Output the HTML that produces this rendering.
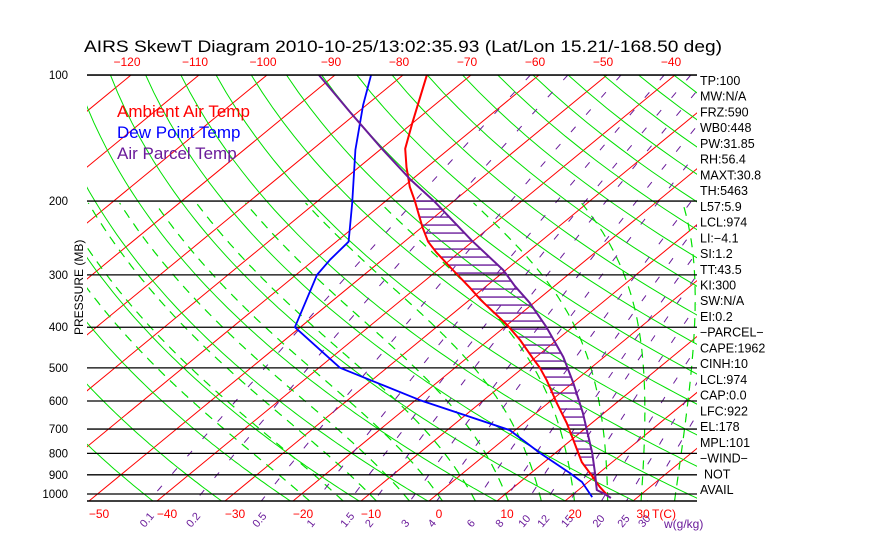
<!DOCTYPE html>
<html><head><meta charset="utf-8">
<style>
html,body{margin:0;padding:0;background:#fff;}
svg{display:block;font-family:"Liberation Sans",sans-serif;}
</style></head>
<body>
<svg id="chart" width="870" height="560" viewBox="0 0 870 560" xmlns="http://www.w3.org/2000/svg">
<defs><clipPath id="box"><rect x="87" y="75" width="610" height="426"/></clipPath></defs>
<rect width="870" height="560" fill="#fff"/>
<text x="84" y="52" font-size="17" textLength="638" lengthAdjust="spacingAndGlyphs">AIRS SkewT Diagram 2010-10-25/13:02:35.93 (Lat/Lon 15.21/-168.50 deg)</text>
<g id="bg" clip-path="url(#box)"></g>
<g id="data" clip-path="url(#box)"></g>
<g id="axes"></g>
<g font-size="17">
<text x="117" y="117" fill="#ff0000">Ambient Air Temp</text>
<text x="117" y="138" fill="#0000ff">Dew Point Temp</text>
<text x="117" y="159" fill="#6a1b9a">Air Parcel Temp</text>
</g>
<text transform="translate(83,335) rotate(-90)" font-size="12">PRESSURE (MB)</text>
<g id="info" font-size="12.5"></g>
</svg>
<script>
// ---- data (pressure in mb, temperature in °C) ----
const tempP = [100,130,150,166,185,200,231,250,265,292,322,344,395,429,474,500,535,607,677,743,839,911,962,1005];
const tempT = [-76.5,-70.1,-66.5,-63.0,-59.0,-55.7,-49.9,-46.5,-43.4,-37.8,-32.1,-28.4,-20.0,-15.4,-10.3,-7.5,-4.3,1.3,6.3,10.3,15.5,19.8,22.6,25.1];
const dewP = [100,118,151,202,250,276,300,400,500,597,704,798,891,936,1017];
const dewT = [-84.7,-80.5,-73.6,-64.6,-58.2,-57.7,-56.9,-50.8,-36.9,-19.4,-0.8,7.7,15.7,19.1,23.3];
const parcelP = [100,123,149,178,200,248,292,319,350,400,471,543,641,798,891,978,1000,1022];
const parcelT = [-92.4,-81.0,-70.3,-60.1,-52.9,-40.4,-30.4,-25.8,-20.6,-13.8,-6.0,0.1,6.9,15.4,19.4,22.7,24.6,26.2];
const pressureTicks = [100,200,300,400,500,600,700,800,900,1000];
const bottomTempTicks = [-50,-40,-30,-20,-10,0,10,20,30];
const topTempTicks = [-120,-110,-100,-90,-80,-70,-60,-50,-40];
const mixRatios = [0.1,0.2,0.5,1,1.5,2,3,4,6,8,10,12,15,20,25,30];
const infoLines = ["TP:100","MW:N/A","FRZ:590","WB0:448","PW:31.85","RH:56.4","MAXT:30.8","TH:5463","L57:5.9","LCL:974","LI:\u22124.1","SI:1.2","TT:43.5","KI:300","SW:N/A","EI:0.2","\u2212PARCEL\u2212","CAPE:1962","CINH:10","LCL:974","CAP:0.0","LFC:922","EL:178","MPL:101","\u2212WIND\u2212"," NOT","AVAIL"];

const NS="http://www.w3.org/2000/svg";
const PBOT=1039, PTOP=100;
function yP(p){return 494+182*Math.log(p/1000);}
function xT(T,y){return 429+6.8*T+1.216*(501-y);}
function mk(tag,parent,attrs){const e=document.createElementNS(NS,tag);for(const k in attrs)e.setAttribute(k,attrs[k]);parent.appendChild(e);return e;}
function pts(arr){return arr.map(a=>a[0].toFixed(1)+","+a[1].toFixed(1)).join(" ");}
function interp(ps,ts,p){
  for(let i=0;i<ps.length-1;i++){
    if(p>=ps[i]&&p<=ps[i+1]){const f=(Math.log(p)-Math.log(ps[i]))/(Math.log(ps[i+1])-Math.log(ps[i]));return ts[i]+f*(ts[i+1]-ts[i]);}
  }
  return null;
}
function es(Tc){return 6.112*Math.exp(17.67*Tc/(Tc+243.5));}
const bg=document.getElementById('bg'), dg=document.getElementById('data'), ax=document.getElementById('axes'), info=document.getElementById('info');

// isotherms
for(let T=-170;T<=50;T+=10){
  const l=mk('line',bg,{x1:xT(T,501),y1:501,x2:xT(T,75),y2:75,stroke:'#ff0000','stroke-width':1});
  
  
}
// dry adiabats
for(let th=200;th<=560;th+=10){
  const a=[];
  for(let p=PTOP;p<=PBOT+1;p+=10){const Tc=th*Math.pow(p/1000,0.286)-273.15;const y=yP(p);a.push([xT(Tc,y),y]);}
  const l=mk('polyline',bg,{points:pts(a),fill:'none',stroke:'#00e000','stroke-width':1});
  
  
}
// moist adiabats
for(let T0=-20;T0<=40;T0+=5){
  let T=T0+273.15,p=PBOT;const a=[];
  // start at 1000 reference, integrate down to PBOT first
  T=T0+273.15;p=1000;
  const step=-2;
  // go down to PBOT
  let Td=T,pd=p;
  while(pd<PBOT){const r=0.622*es(Td-273.15)/(pd-es(Td-273.15));const g=(287*Td+2.5e6*r)/(1005+2.5e6*2.5e6*r*0.622/(287*Td*Td));Td+=g*(2/pd);pd+=2;}
  T=Td;p=pd;
  while(p>200){const y=yP(p);a.push([xT(T-273.15,y),y]);const Tc=T-273.15;const r=0.622*es(Tc)/(p-es(Tc));const g=(287*T+2.5e6*r)/(1005+2.5e6*2.5e6*r*0.622/(287*T*T));T+=g*(step/p);p+=step;}
  const l=mk('polyline',bg,{points:pts(a),fill:'none',stroke:'#00e000','stroke-width':1.2,'stroke-dasharray':'9,7'});
  
  
}
// mixing ratio lines
mixRatios.forEach(w=>{
  const a=[];
  for(let p=PTOP;p<=PBOT+1;p+=10){const e=(w/1000)*p/(0.622+w/1000);const L=Math.log(e/6.112);const Tc=243.5*L/(17.67-L);const y=yP(p);a.push([xT(Tc,y),y]);}
  const l=mk('polyline',bg,{points:pts(a),fill:'none',stroke:'#6a1b9a','stroke-width':1,'stroke-dasharray':'7,16'});
  
  
  const p=PBOT;const e=(w/1000)*p/(0.622+w/1000);const L=Math.log(e/6.112);const Tc=243.5*L/(17.67-L);
  const x=xT(Tc,501);
  const t=mk('text',ax,{x:x-4,y:528,'font-size':11,fill:'#6a1b9a',transform:`rotate(-50 ${x-4} 528)`});
  t.textContent=String(w);
  
  
});
// pressure lines
pressureTicks.forEach(p=>{
  const y=yP(p);
  const l=mk('line',bg,{x1:87,y1:y,x2:697,y2:y,stroke:'#000','stroke-width':1.3});
  
  
  const t=mk('text',ax,{x:68,y:y+4,'font-size':11.5,'text-anchor':'end'});
  t.textContent=String(p);
  
  
});
const bl=mk('line',ax,{x1:87,y1:501,x2:697,y2:501,stroke:'#000','stroke-width':1.5});


const tl=mk('line',ax,{x1:87,y1:75,x2:697,y2:75,stroke:'#000','stroke-width':1.5});


// temperature tick labels
bottomTempTicks.forEach(T=>{
  const t=mk('text',ax,{x:xT(T,501)+10,y:518,'font-size':12,fill:'#ff0000','text-anchor':'middle'});
  t.textContent=T<0?'\u2212'+(-T):String(T);
  
  
});
topTempTicks.forEach(T=>{
  const t=mk('text',ax,{x:xT(T,75)-4,y:66,'font-size':12,fill:'#ff0000','text-anchor':'middle'});
  t.textContent='\u2212'+(-T);
  
  
});
const tc=mk('text',ax,{x:652,y:518,'font-size':12,fill:'#ff0000'});
tc.textContent='T(C)';


const wu=mk('text',ax,{x:664,y:528,'font-size':12,fill:'#6a1b9a'});
wu.textContent='w(g/kg)';



// CAPE hatching
for(let y=yP(200);y<=yP(985);y+=8){
  const p=1000*Math.exp((y-494)/182);
  const a=interp(tempP,tempT,p), b=interp(parcelP,parcelT,p);
  if(a===null||b===null||b<=a) continue;
  const h=mk('line',dg,{x1:xT(a,y),y1:y,x2:xT(b,y),y2:y,stroke:'#6a1b9a','stroke-width':1.3});
  
  
}
function profile(ps,ts,color,name,w){
  const a=ps.map((p,i)=>{const y=yP(p);return [xT(ts[i],y),y];});
  const l=mk('polyline',dg,{points:pts(a),fill:'none',stroke:color,'stroke-width':w,'stroke-linejoin':'round'});
  
  
}
profile(dewP,dewT,'#0000ff','dew-point-line',1.8);
profile(tempP,tempT,'#ff0000','ambient-temp-line',2);
profile(parcelP,parcelT,'#6a1b9a','parcel-temp-line',2);

// info panel
infoLines.forEach((s,i)=>{
  const t=mk('text',info,{x:s.startsWith(' ')?704:700,y:85+i*15.73,'font-size':12.5});
  t.textContent=s.trim();
  
  
});
</script>
</body></html>
